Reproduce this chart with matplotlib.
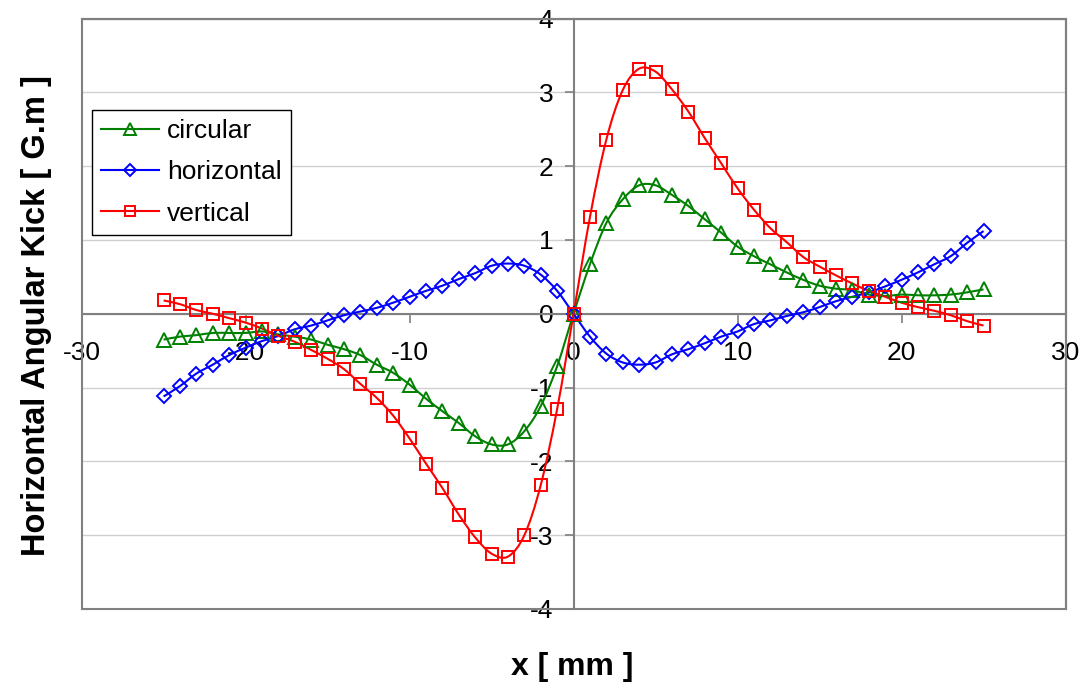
import matplotlib
matplotlib.use('Agg')
import matplotlib.pyplot as plt
from matplotlib.path import Path
from matplotlib.patches import PathPatch, Rectangle
from matplotlib.lines import Line2D
import numpy as np

plt.rcParams['font.family'] = ['Liberation Sans', 'DejaVu Sans']

# ---------------- data ----------------
x_mm = [-25, -24, -23, -22, -21, -20, -19, -18, -17, -16, -15, -14, -13, -12, -11,
        -10, -9, -8, -7, -6, -5, -4, -3, -2, -1, 0, 1, 2, 3, 4, 5, 6, 7, 8, 9,
        10, 11, 12, 13, 14, 15, 16, 17, 18, 19, 20, 21, 22, 23, 24, 25]

circular = [-0.35, -0.31, -0.29, -0.26, -0.26, -0.26, -0.24, -0.28, -0.31, -0.35,
            -0.42, -0.48, -0.56, -0.69, -0.80, -0.96, -1.15, -1.32, -1.48, -1.66,
            -1.77, -1.77, -1.59, -1.25, -0.71, 0.00, 0.67, 1.23, 1.55, 1.74,
            1.74, 1.61, 1.46, 1.28, 1.10, 0.91, 0.78, 0.67, 0.56, 0.46,
            0.38, 0.34, 0.32, 0.26, 0.24, 0.26, 0.25, 0.25, 0.26, 0.29, 0.33]

horizontal = [-1.12, -0.98, -0.81, -0.69, -0.56, -0.46, -0.37, -0.30, -0.21, -0.16,
              -0.09, -0.02, 0.03, 0.08, 0.15, 0.23, 0.31, 0.38, 0.47, 0.55,
              0.65, 0.68, 0.65, 0.53, 0.31, 0.00, -0.31, -0.54, -0.66, -0.69,
              -0.66, -0.55, -0.48, -0.40, -0.31, -0.24, -0.14, -0.09, -0.03, 0.02,
              0.09, 0.17, 0.23, 0.29, 0.37, 0.46, 0.56, 0.67, 0.78, 0.96, 1.12]

vertical = [0.18, 0.13, 0.05, 0.00, -0.06, -0.12, -0.20, -0.30, -0.38, -0.49,
            -0.61, -0.75, -0.95, -1.14, -1.38, -1.69, -2.03, -2.36, -2.72, -3.03,
            -3.25, -3.29, -3.00, -2.32, -1.29, 0.00, 1.31, 2.36, 3.03, 3.32,
            3.28, 3.04, 2.74, 2.38, 2.04, 1.70, 1.41, 1.16, 0.97, 0.77,
            0.64, 0.52, 0.41, 0.31, 0.23, 0.15, 0.09, 0.04, -0.02, -0.10, -0.16]

series_names = ['circular', 'horizontal', 'vertical']
x_ticks = [-30, -20, -10, 0, 10, 20, 30]
y_ticks = [-4, -3, -2, -1, 0, 1, 2, 3, 4]
x_label = 'x [ mm ]'
y_label = 'Horizontal Angular Kick [ G.m ]'

# ---------------- style ----------------
colors = ['#008000', '#0000FF', '#FF0000']
markers = ['^', 'D', 's']
msizes = [10.0, 7.0, 8.6]
leg_msizes = [8.0, 6.5, 7.5]
W, H = 1086, 688
FS = 19


def smooth_path(xs, ys):
    pts = np.column_stack([xs, ys]).astype(float)
    n = len(pts)
    verts = [pts[0]]
    codes = [Path.MOVETO]
    for i in range(n - 1):
        p0 = pts[i - 1] if i > 0 else pts[i]
        p1 = pts[i]
        p2 = pts[i + 1]
        p3 = pts[i + 2] if i + 2 < n else pts[i + 1]
        verts += [p1 + (p2 - p0) / 6.0, p2 - (p3 - p1) / 6.0, p2]
        codes += [Path.CURVE4] * 3
    return Path(verts, codes)


fig = plt.figure(figsize=(W / 100, H / 100), dpi=100)
left, right, top, bottom = 81.6, 1065.5, 18.5, 609.0
ax = fig.add_axes([left / W, 1 - bottom / H, (right - left) / W, (bottom - top) / H])

ax.set_xlim(-30, 30)
ax.set_ylim(-4, 4)
ax.set_xticks(x_ticks)
ax.set_yticks(y_ticks)
ax.set_xticklabels([str(v) for v in x_ticks])
ax.set_yticklabels([str(v) for v in y_ticks])

ax.yaxis.grid(True, color='#d0d0d0', linewidth=1.0)
ax.set_axisbelow(True)

for side in ['left', 'bottom']:
    ax.spines[side].set_position(('data', 0))
    ax.spines[side].set_color('#808080')
    ax.spines[side].set_linewidth(1.5)
for side in ['top', 'right']:
    ax.spines[side].set_color('#808080')
    ax.spines[side].set_linewidth(1.5)
ax.add_patch(Rectangle((0, 0), 1, 1, transform=ax.transAxes, fill=False,
                       edgecolor='#808080', linewidth=1.5, clip_on=False, zorder=3))

ax.tick_params(axis='both', direction='out', length=6.5, width=1.2,
               color='#808080', labelsize=FS, labelcolor='black')
ax.tick_params(axis='x', pad=13)
ax.tick_params(axis='y', pad=8)

handles = []
for ys, c, m, ms, lms, name in zip([circular, horizontal, vertical], colors, markers,
                                   msizes, leg_msizes, series_names):
    ax.add_patch(PathPatch(smooth_path(x_mm, ys), facecolor='none', edgecolor=c,
                           linewidth=1.5, zorder=4))
    ax.plot(x_mm, ys, linestyle='none', marker=m, markersize=ms, markerfacecolor='none',
            markeredgecolor=c, markeredgewidth=1.4, zorder=5)
    handles.append(Line2D([], [], color=c, linewidth=1.5, marker=m, markersize=lms,
                          markerfacecolor='none', markeredgecolor=c, markeredgewidth=1.4))

leg = ax.legend(handles, series_names, loc='upper left',
                bbox_to_anchor=(91.7 / W, 1 - 110 / H), bbox_transform=fig.transFigure,
                borderaxespad=0, fontsize=FS, numpoints=1, handlelength=2.2,
                handletextpad=0.3, borderpad=0.35, labelspacing=0.65,
                fancybox=False, framealpha=1, edgecolor='black')
leg.get_frame().set_linewidth(1.0)
leg.set_zorder(10)

fig.text(572 / W, 1 - 675 / H, x_label, ha='center', va='baseline',
         fontsize=23, fontweight='bold')
fig.text(45 / W, 1 - 315 / H, y_label, ha='center', va='baseline', rotation=90,
         rotation_mode='anchor', fontsize=23.5, fontweight='bold')

fig.savefig('out.png', dpi=100)
